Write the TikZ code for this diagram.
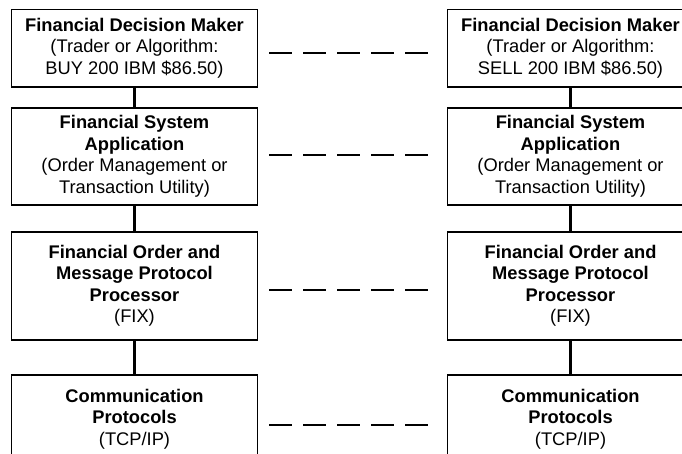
\documentclass[tikz,border=0pt]{standalone}
\usepackage{fontspec}
\setmainfont{Liberation Sans}
\begin{document}
\begin{tikzpicture}[x=1pt,y=-1pt,
  layerbox/.style={draw=black, line width=1.4pt, rectangle, minimum width=246pt,
    align=center, inner sep=0pt, font=\fontsize{18.3}{21.5}\selectfont},
  stack/.style={line width=3.6pt},
  peerline/.style={line width=1.4pt, dash pattern=on 23pt off 11pt}]
\useasboundingbox (0,0) rectangle (682,454);
\clip (0,0) rectangle (682,454);
\fill[white] (0,0) rectangle (682,454);
% left stack
\node[layerbox, minimum height=77.5pt] (L1) at (134.5,48.25)
  {\textbf{Financial Decision Maker}\\(Trader or Algorithm:\\BUY 200 IBM \$86.50)};
\node[layerbox, minimum height=97pt] (L2) at (134.5,156.5)
  {\textbf{Financial System}\\\textbf{Application}\\(Order Management or\\Transaction Utility)};
\node[layerbox, minimum height=108pt] (L3) at (134.5,286)
  {\textbf{Financial Order and}\\\textbf{Message Protocol}\\\textbf{Processor}\\(FIX)};
\node[layerbox, minimum height=88pt] (L4) at (134.5,419)
  {\textbf{Communication}\\\textbf{Protocols}\\(TCP/IP)};
% right stack
\node[layerbox, minimum height=77.5pt] (R1) at (570.5,48.25)
  {\textbf{Financial Decision Maker}\\(Trader or Algorithm:\\SELL 200 IBM \$86.50)};
\node[layerbox, minimum height=97pt] (R2) at (570.5,156.5)
  {\textbf{Financial System}\\\textbf{Application}\\(Order Management or\\Transaction Utility)};
\node[layerbox, minimum height=108pt] (R3) at (570.5,286)
  {\textbf{Financial Order and}\\\textbf{Message Protocol}\\\textbf{Processor}\\(FIX)};
\node[layerbox, minimum height=88pt] (R4) at (570.5,419)
  {\textbf{Communication}\\\textbf{Protocols}\\(TCP/IP)};
% vertical connectors
\draw[stack] (L1.south) -- (L2.north);
\draw[stack] (L2.south) -- (L3.north);
\draw[stack] (L3.south) -- (L4.north);
\draw[stack] (R1.south) -- (R2.north);
\draw[stack] (R2.south) -- (R3.north);
\draw[stack] (R3.south) -- (R4.north);
% peer dashed lines
\coordinate (p1a) at (269,53);  \coordinate (p1b) at (428,53);
\coordinate (p2a) at (269,155); \coordinate (p2b) at (428,155);
\coordinate (p3a) at (269,290); \coordinate (p3b) at (428,290);
\coordinate (p4a) at (269,425); \coordinate (p4b) at (428,425);
\draw[peerline] (p1a) -- (p1b);
\draw[peerline] (p2a) -- (p2b);
\draw[peerline] (p3a) -- (p3b);
\draw[peerline] (p4a) -- (p4b);
\end{tikzpicture}
\end{document}
